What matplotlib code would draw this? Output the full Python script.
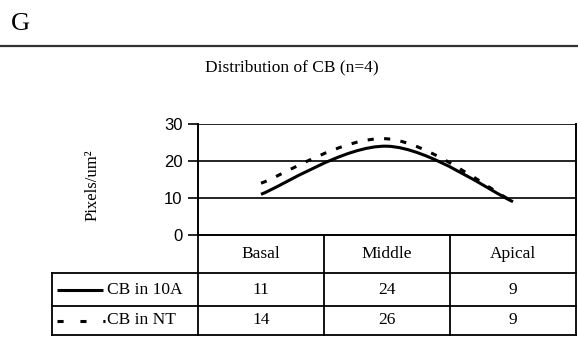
import matplotlib
matplotlib.use("Agg")
import matplotlib.pyplot as plt
import numpy as np
from matplotlib.path import Path
from matplotlib.patches import PathPatch
from matplotlib.lines import Line2D
from matplotlib.transforms import blended_transform_factory

categories = ["Basal", "Middle", "Apical"]
cb_10a = [11, 24, 9]
cb_nt = [14, 26, 9]
series_names = ["CB in 10A", "CB in NT"]
yticks = [0, 10, 20, 30]

W, H = 578, 343
plt.rcParams["font.family"] = ["Liberation Serif", "DejaVu Serif"]

fig = plt.figure(figsize=(W / 100, H / 100), dpi=100)


def fx(px):
    return px / W


def fy(py):
    return 1 - py / H


# plot area in pixels
left, right, top, bottom = 198, 576, 124, 235
ax = fig.add_axes([fx(left), fy(bottom), fx(right - left), fy(top) - fy(bottom)])
ax.set_xlim(-0.5, len(categories) - 0.5)
ax.set_ylim(0, 30)
ax.set_xticks([])
ax.set_yticks(yticks)
ax.set_yticklabels([str(t) for t in yticks], family="Liberation Sans", fontsize=12)
ax.tick_params(axis="y", direction="out", length=7, width=1.2, pad=4, color="black")
for t in yticks[1:]:
    ax.axhline(t, color="#222222", lw=1.4, zorder=1)
ax.spines["top"].set_visible(False)
for s in ["left", "bottom", "right"]:
    ax.spines[s].set_linewidth(1.4)
    ax.spines[s].set_color("black")


def smooth_path(vals, tension=1 / 6):
    # Excel-style smoothed line: cubic bezier through each point
    pts = np.column_stack([np.arange(len(vals)), np.array(vals, dtype=float)])
    ext = np.vstack([pts[0], pts, pts[-1]])
    verts = [pts[0]]
    codes = [Path.MOVETO]
    for i in range(len(pts) - 1):
        p0, p1, p2, p3 = ext[i], ext[i + 1], ext[i + 2], ext[i + 3]
        c1 = p1 + (p2 - p0) * tension
        c2 = p2 - (p3 - p1) * tension
        verts += [c1, c2, p2]
        codes += [Path.CURVE4] * 3
    return Path(verts, codes)


dash = (0, (2.0, 3.4))
ax.add_patch(PathPatch(smooth_path(cb_10a), fill=False, lw=2.2, color="black",
                       capstyle="butt", zorder=3))
ax.add_patch(PathPatch(smooth_path(cb_nt), fill=False, lw=2.2, color="black",
                       linestyle=dash, capstyle="butt", zorder=3))

# title, panel letter, y label
fig.add_artist(Line2D([0, 1], [fy(46), fy(46)], transform=fig.transFigure,
                      color="#333333", lw=1.6))
fig.text(fx(11), fy(24), "G", fontsize=19, ha="left", va="center")
fig.text(fx(292), fy(67), "Distribution of CB (n=4)", fontsize=12.5,
         ha="center", va="center")
fig.text(fx(93), fy(185), "Pixels/um²", fontsize=12, rotation=90,
         ha="center", va="center")

# data table below the plot
tr = blended_transform_factory(ax.transData, fig.transFigure)
row_lines = [273, 306, 335]
row_mid = [289.5, 320.5]
leg_left = 52


def line_px(xs, ys, **kw):
    fig.add_artist(Line2D([fx(x) for x in xs], [fy(y) for y in ys],
                          transform=fig.transFigure, color="black", **kw))


for y in row_lines:
    line_px([leg_left, right], [y, y], lw=1.3)
line_px([leg_left, leg_left], [row_lines[0], row_lines[-1]], lw=1.3)
for i in range(len(categories) + 1):
    fig.add_artist(Line2D([i - 0.5, i - 0.5], [fy(bottom), fy(row_lines[-1])],
                          transform=tr, color="black", lw=1.3))

for i, c in enumerate(categories):
    fig.text(i, fy(254), c, transform=tr, fontsize=12.5, ha="center", va="center")
    fig.text(i, fy(row_mid[0]), str(cb_10a[i]), transform=tr, fontsize=12.5,
             ha="center", va="center")
    fig.text(i, fy(row_mid[1]), str(cb_nt[i]), transform=tr, fontsize=12.5,
             ha="center", va="center")

# legend keys inside the table
line_px([57, 103], [row_mid[0], row_mid[0]], lw=2.2, solid_capstyle="butt")
line_px([57, 105], [row_mid[1], row_mid[1]], lw=2.2,
        linestyle=(0, (2.0, 5.5, 2.0, 5.5, 0.8, 2.0)), dash_capstyle="butt")
for name, ym in zip(series_names, row_mid):
    fig.text(fx(107), fy(ym), name, fontsize=12.5, ha="left", va="center")

fig.savefig("out.png", dpi=100)
